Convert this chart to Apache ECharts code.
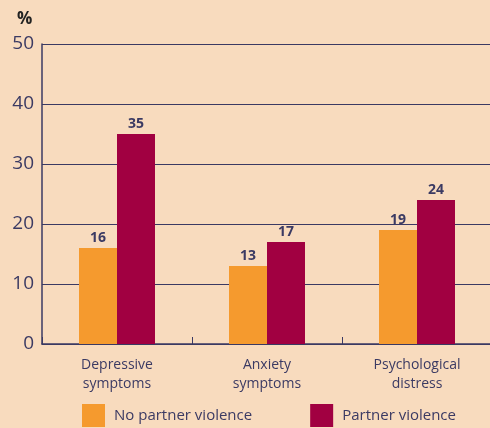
<!DOCTYPE html>
<html>
<head>
<meta charset="utf-8">
<script src="https://cdn.jsdelivr.net/npm/echarts@6/dist/echarts.min.js"></script>
<style>
  html, body { margin: 0; padding: 0; background: #f8dbbe; overflow: hidden; }
  #chart { width: 492px; height: 428px; }
</style>
</head>
<body>
<div id="chart"></div>
<script>
var categories = ['Depressive\nsymptoms', 'Anxiety\nsymptoms', 'Psychological\ndistress'];
var noViolence = [16, 13, 19];
var violence = [35, 17, 24];
var seriesNames = ['No partner violence', 'Partner violence'];

var ink = '#3b3a63';
var chart = echarts.init(document.getElementById('chart'));

var labelStyle = {
  show: true,
  position: 'top',
  distance: 3,
  color: ink,
  fontFamily: 'Open Sans',
  fontWeight: 'bold',
  fontSize: 14
};

chart.setOption({
  backgroundColor: '#f8dbbe',
  animation: false,
  textStyle: { fontFamily: 'Open Sans' },
  title: {
    text: '%',
    left: 12,
    top: 6,
    textStyle: { color: '#222', fontSize: 17, fontWeight: 'bold', fontFamily: 'Open Sans' }
  },
  legend: {
    top: 399,
    left: 77,
    itemWidth: 23,
    itemHeight: 23,
    itemGap: 58,
    icon: 'rect',
    data: seriesNames,
    textStyle: { color: ink, fontSize: 15, fontFamily: 'Open Sans', padding: [0, 0, 0, 4] }
  },
  grid: { left: 42, right: 0, top: 44, bottom: 84 },
  xAxis: {
    type: 'category',
    data: categories,
    axisLine: { lineStyle: { color: ink, width: 1.5 } },
    axisTick: { show: true, inside: true, length: 7, lineStyle: { color: ink } },
    axisLabel: { color: ink, fontSize: 14, lineHeight: 19, margin: 12, fontFamily: 'Open Sans' }
  },
  yAxis: {
    type: 'value',
    min: 0,
    max: 50,
    interval: 10,
    axisLine: { show: true, lineStyle: { color: ink, width: 1.5 } },
    axisTick: { show: false },
    splitLine: { lineStyle: { color: ink, width: 1.2 } },
    axisLabel: { color: ink, fontSize: 19, margin: 8, fontFamily: 'Open Sans' }
  },
  series: [
    {
      name: seriesNames[0],
      type: 'bar',
      data: noViolence,
      barWidth: 38,
      barGap: '0%',
      itemStyle: { color: '#f59a2e' },
      label: labelStyle
    },
    {
      name: seriesNames[1],
      type: 'bar',
      data: violence,
      barWidth: 38,
      barGap: '0%',
      itemStyle: { color: '#a10041' },
      label: labelStyle
    }
  ]
});
</script>
</body>
</html>
